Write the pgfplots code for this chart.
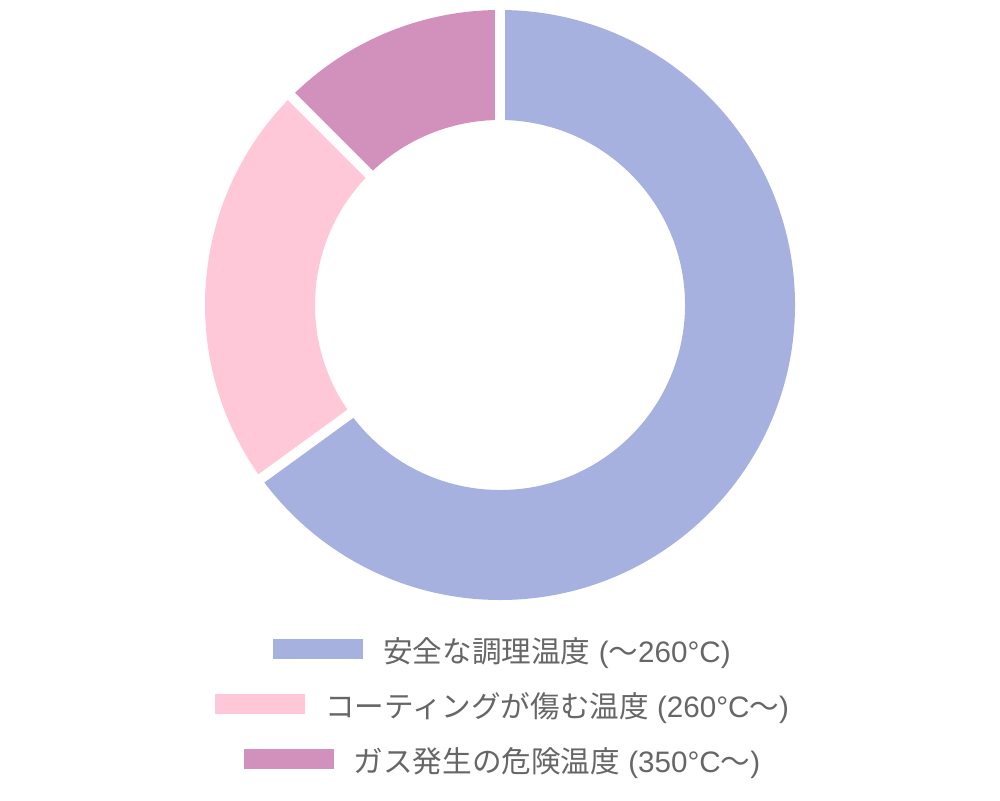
\documentclass[border=0pt]{standalone}
\usepackage{pgfplots}
\pgfplotsset{compat=1.18}
\usepackage{pgfplotstable}
\usepackage{fontspec}
\setmainfont{Liberation Sans}
\newfontfamily\cjk{Noto Sans CJK JP}
\definecolor{cA}{HTML}{A7B1E0}
\definecolor{cB}{HTML}{FEC8D8}
\definecolor{cC}{HTML}{D290BC}
\definecolor{txt}{HTML}{666666}

% temperature bands: 0-260, 260-350, 350-400
\pgfplotstableread{
value
260
90
50
}\slices
\pgfplotstablegetelem{0}{value}\of\slices \let\vA\pgfplotsretval
\pgfplotstablegetelem{1}{value}\of\slices \let\vB\pgfplotsretval
\pgfplotstablegetelem{2}{value}\of\slices \let\vC\pgfplotsretval
\pgfmathsetmacro\tot{\vA+\vB+\vC}
\pgfmathsetmacro\aA{90}
\pgfmathsetmacro\aB{90-360*(\vA/\tot)}
\pgfmathsetmacro\aC{90-360*((\vA+\vB)/\tot)}
\pgfmathsetmacro\aD{-270}
% annular sector, centre (500,495), radii 295/185 (0.5pt per unit)
\newcommand\sector[3]{%
  \fill[#3] (axis cs:{500+295*cos(#1)},{495+295*sin(#1)})
    arc[start angle=#1,end angle=#2,radius=147.5pt]
    -- (axis cs:{500+185*cos(#2)},{495+185*sin(#2)})
    arc[start angle=#2,end angle=#1,radius=92.5pt] -- cycle;}
\newcommand\gap[1]{%
  \draw[white,line width=5pt] (axis cs:{500+170*cos(#1)},{495+170*sin(#1)})
    -- (axis cs:{500+310*cos(#1)},{495+310*sin(#1)});}
\newcommand\swatch[1]{\textcolor{#1}{\rule[1.6pt]{45pt}{10pt}}\hspace{10pt}}

\begin{document}
\begin{tikzpicture}
\begin{axis}[
  width=500pt, height=400pt, scale only axis,
  xmin=0, xmax=1000, ymin=0, ymax=800,
  hide axis, clip=false,
  legend style={draw=none, fill=none, at={(axis cs:502,162)}, anchor=north,
    font=\fontsize{14.8pt}{17pt}\selectfont\color{txt},
    row sep=14.5pt, column sep=0pt,
    nodes={inner sep=0pt, text height=10pt, text depth=3pt}},
  legend cell align=center,
]
\coordinate (bl) at (rel axis cs:0,0);
\coordinate (tr) at (rel axis cs:1,1);
\sector{\aA}{\aB}{cA}
\sector{\aB}{\aC}{cB}
\sector{\aC}{\aD}{cC}
\gap{\aA}
\gap{\aB}
\gap{\aC}
\addlegendimage{empty legend}
\addlegendentry{\swatch{cA}{\cjk 安全な調理温度} ({\cjk 〜}260°C)}
\addlegendimage{empty legend}
\addlegendentry{\swatch{cB}{\cjk コーティングが傷む温度} (260°C{\cjk 〜})}
\addlegendimage{empty legend}
\addlegendentry{\swatch{cC}{\cjk ガス発生の危険温度} (350°C{\cjk 〜})}
\end{axis}
\pgfresetboundingbox
\path (bl) rectangle (tr);
\end{tikzpicture}
\end{document}
